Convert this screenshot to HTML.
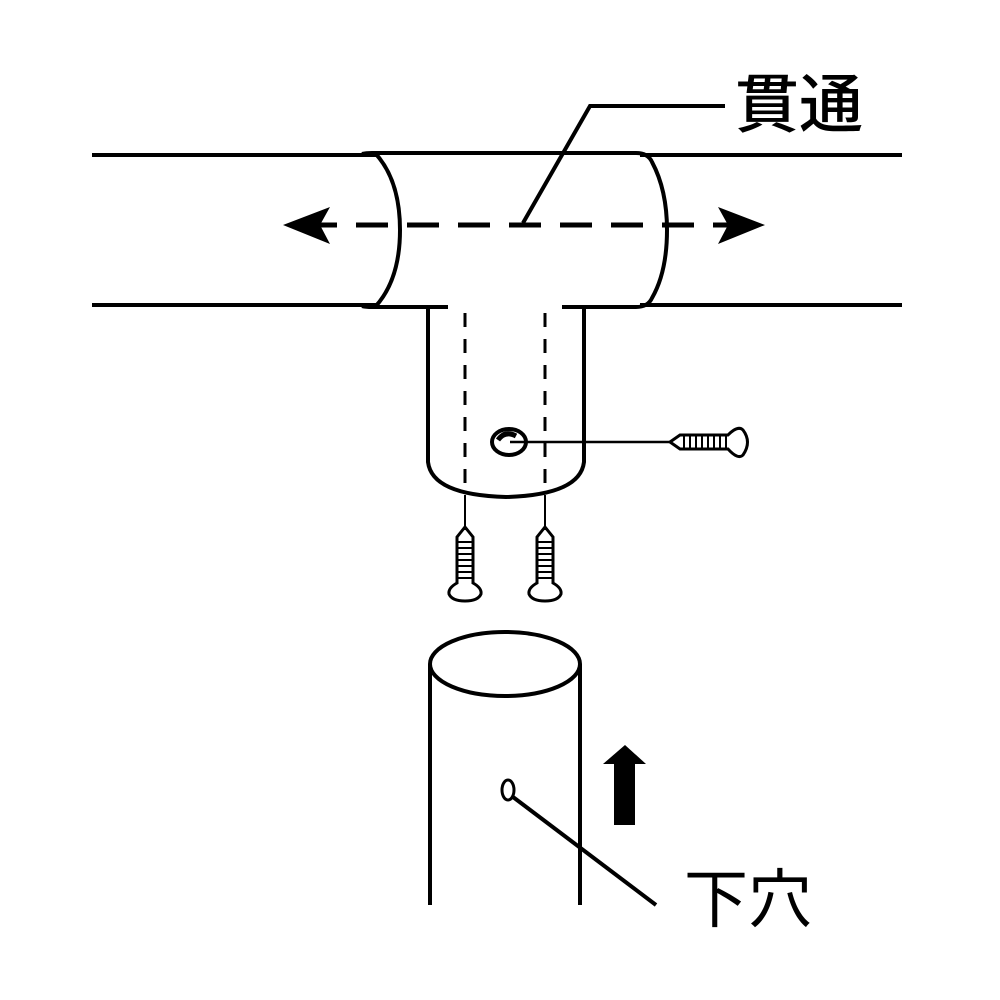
<!DOCTYPE html>
<html><head><meta charset="utf-8"><style>html,body{margin:0;padding:0;background:#fff}svg{display:block}</style></head>
<body>
<svg width="1000" height="1000" viewBox="0 0 1000 1000" xmlns="http://www.w3.org/2000/svg">
<g fill="none" stroke="#000" stroke-width="4" stroke-linecap="butt">
<!-- main pipe -->
<line x1="92" y1="155" x2="378" y2="155"/>
<line x1="92" y1="305" x2="378" y2="305"/>
<line x1="640" y1="155" x2="902" y2="155"/>
<line x1="640" y1="305" x2="902" y2="305"/>
<!-- fitting -->
<path d="M362 154 Q366 153 372 153 L636 153 Q648 153 652 162 Q667 190 667 230 Q667 272 652 298 Q648 307 636 307 L562 307"/>
<path d="M448 307 L372 307 Q366 307 362 306"/>
<path d="M375 153 Q400 180 400 230 Q400 280 375 307"/>
<path d="M428 307 L428 462 Q432 495 506 497 Q580 495 584 462 L584 307"/>
<!-- horizontal dashed -->
<line x1="305" y1="225" x2="745" y2="225" stroke-width="5" stroke-dasharray="32 19"/>
<!-- leader 貫通 -->
<polyline points="523,223 590,106 725,106" stroke-width="4"/>
<!-- vertical dashed -->
<line x1="465" y1="313" x2="465" y2="495" stroke-width="3" stroke-dasharray="14 12"/>
<line x1="545" y1="313" x2="545" y2="495" stroke-width="3" stroke-dasharray="14 12"/>
<line x1="465" y1="495" x2="465" y2="530" stroke-width="2"/>
<line x1="545" y1="495" x2="545" y2="530" stroke-width="2"/>
<!-- side hole & screw -->
<ellipse cx="509" cy="442" rx="17" ry="13"/>
<path d="M498 440 Q505 430 516 436" stroke-width="5"/>
<line x1="510" y1="442" x2="670" y2="442" stroke-width="2.5"/>
<path d="M670 442 L680 435 L728 435 Q738 425 743 430 Q752 442 743 455 Q738 460 728 449 L680 449 Z" stroke-width="3"/>
<g stroke-width="2">
<line x1="684" y1="436" x2="684" y2="448"/><line x1="690" y1="436" x2="690" y2="448"/><line x1="696" y1="436" x2="696" y2="448"/><line x1="702" y1="436" x2="702" y2="448"/><line x1="708" y1="436" x2="708" y2="448"/><line x1="714" y1="436" x2="714" y2="448"/><line x1="720" y1="436" x2="720" y2="448"/><line x1="726" y1="436" x2="726" y2="448"/>
</g>
<!-- vertical screws -->
<g id="s1">
<path d="M465 527 L473 537 L473 583 Q482 588 481 594 Q478 601 465 601 Q452 601 449 594 Q448 588 457 583 L457 537 Z" stroke-width="3"/>
<g stroke-width="2"><line x1="458" y1="542" x2="472" y2="542"/><line x1="458" y1="548" x2="472" y2="548"/><line x1="458" y1="554" x2="472" y2="554"/><line x1="458" y1="560" x2="472" y2="560"/><line x1="458" y1="566" x2="472" y2="566"/><line x1="458" y1="572" x2="472" y2="572"/><line x1="458" y1="578" x2="472" y2="578"/></g>
</g>
<use href="#s1" x="80"/>
<!-- lower pipe -->
<ellipse cx="505" cy="664" rx="75" ry="32"/>
<line x1="430" y1="664" x2="430" y2="905"/>
<line x1="580" y1="664" x2="580" y2="905"/>
<ellipse cx="508" cy="790" rx="6" ry="10" stroke-width="3"/>
<line x1="513" y1="797" x2="656" y2="905" stroke-width="4"/>
</g>
<!-- arrowheads -->
<path d="M283 225 L330 207 L320 225 L330 244 Z" fill="#000"/>
<path d="M765 225 L718 207 L728 225 L718 244 Z" fill="#000"/>
<!-- up arrow -->
<path d="M625 745 L646 764 L635 764 L635 825 L614 825 L614 764 L603 764 Z" fill="#000"/>
<text x="735" y="127" font-family="Liberation Sans, Noto Sans CJK JP, sans-serif" font-size="64" font-weight="500" fill="#000">貫通</text>
<text x="684" y="922" font-family="Liberation Sans, Noto Sans CJK JP, sans-serif" font-size="64" fill="#000">下穴</text>
</svg>
</body></html>
